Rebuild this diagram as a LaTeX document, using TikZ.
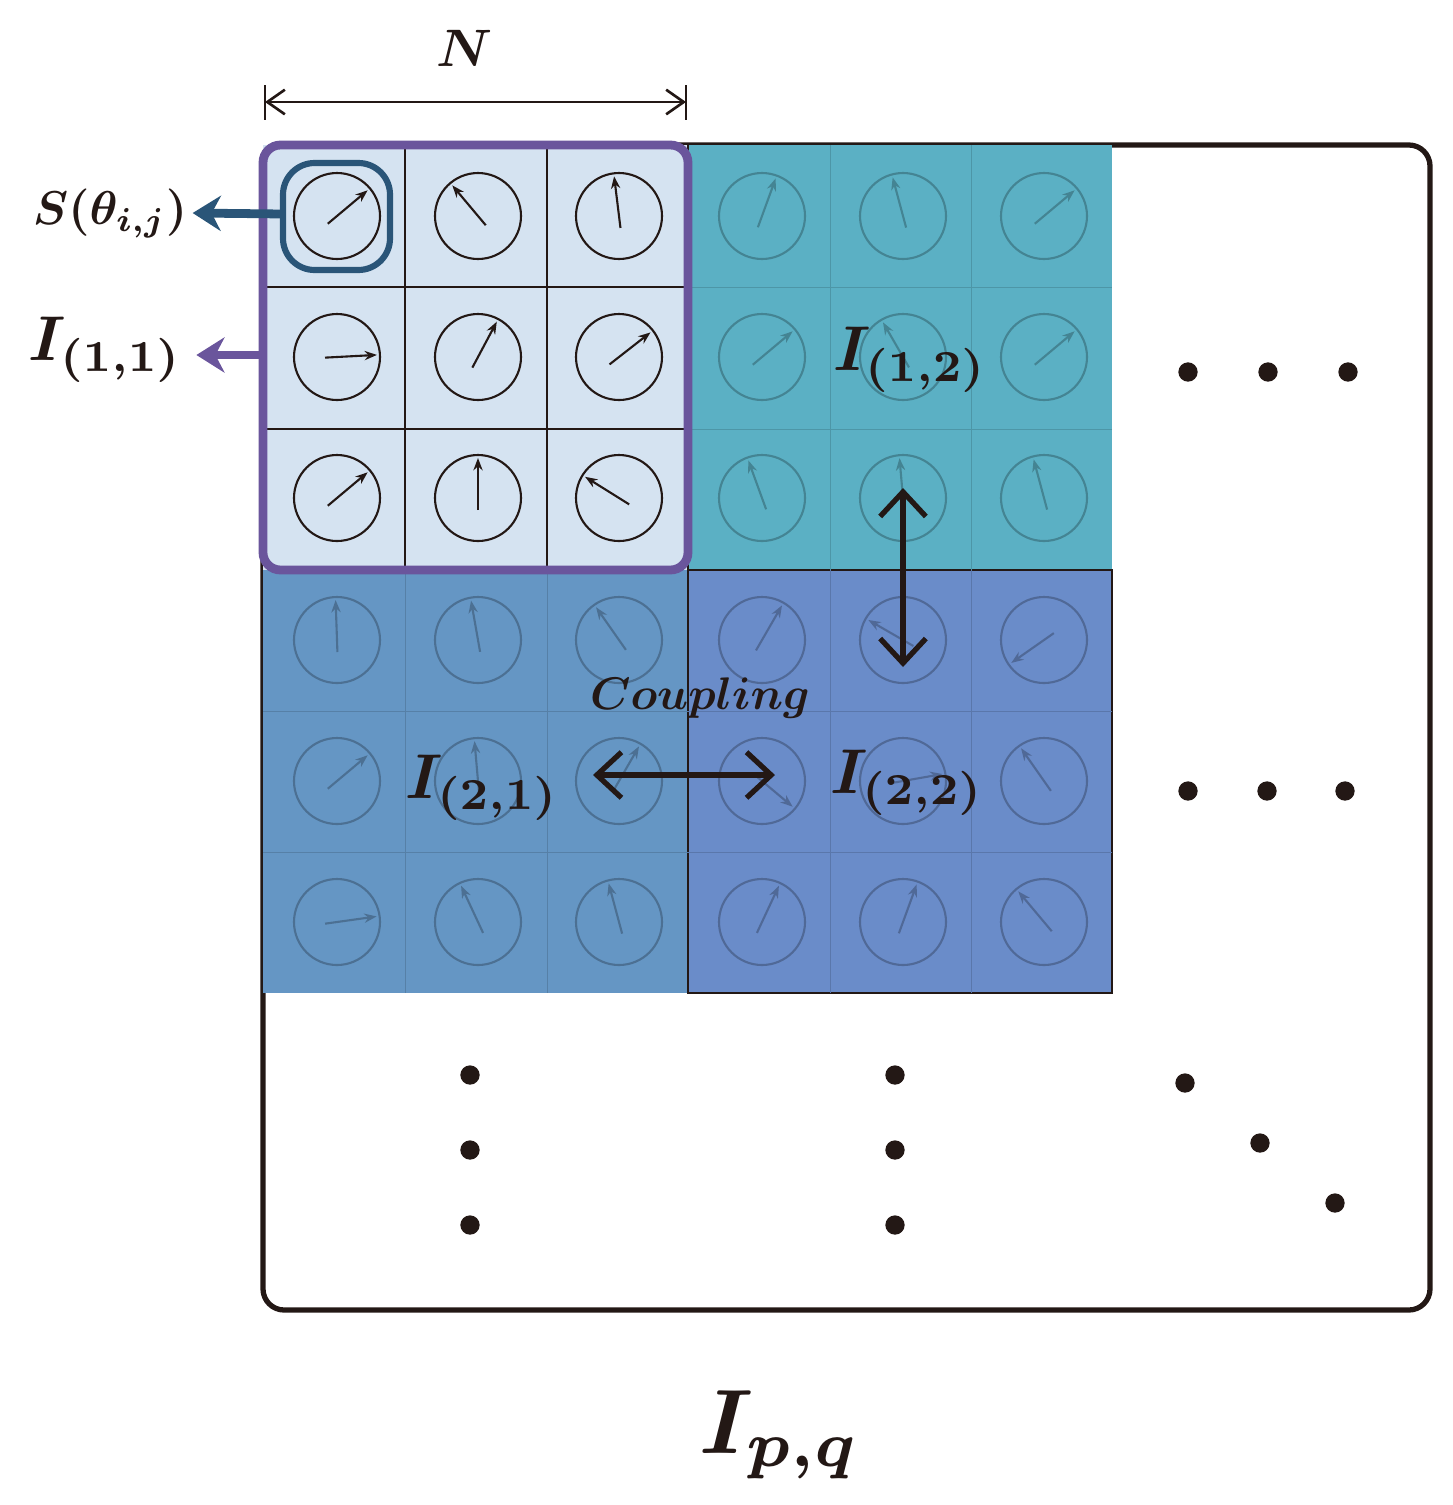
\documentclass[tikz,border=0pt]{standalone}
\usepackage{bm}
\usetikzlibrary{arrows.meta,calc}
\definecolor{cA}{HTML}{D5E3F1}
\definecolor{cB}{HTML}{5BB0C4}
\definecolor{cC}{HTML}{6596C4}
\definecolor{cD}{HTML}{6A8CC9}
\definecolor{pur}{HTML}{6A559C}
\definecolor{dblue}{HTML}{2A5578}
\definecolor{ink}{HTML}{231815}
\tikzset{
 lbl/.style={inner sep=0pt,text=ink},
 dot/.style={circle,fill=ink,inner sep=0pt,minimum size=11pt},
 dbl/.style={{Straight Barb[length=14pt,width=26pt]}-{Straight Barb[length=14pt,width=26pt]},line width=3pt,draw=ink},
}
\newcommand{\myspin}[4]{%
 \draw[#4,line width=1.2pt] (#1,#2) circle (43);
 \draw[#4,line width=1.2pt,-{Stealth[length=7pt]}] ($(#1,#2)+(-#3+180:12)$) -- ($(#1,#2)+(-#3:40)$);}
\newcommand{\mybig}[2]{\scalebox{#1}{$\bm{#2}$}}
\begin{document}
\begin{tikzpicture}[x=0.02cm,y=-0.02cm]
\useasboundingbox (0,0) rectangle (1453,1505);
\draw[ink,line width=3pt,rounded corners=12] (263,145) rectangle (1430,1310);
\fill[cA] (263,145) rectangle (688,570);
\fill[cB] (688,145) rectangle (1112,570);
\fill[cC] (263,570) rectangle (688,993);
\fill[cD] (688,570) rectangle (1112,993);
\draw[ink,line width=1.2pt] (688,570) rectangle (1112,993);
\draw[ink,line width=1.2pt] (688,145) -- (688,993);
\foreach \x in {405,547}{\draw[ink,line width=1.2pt] (\x,145)--(\x,570);}
\foreach \y in {287,429}{\draw[ink,line width=1.2pt] (263,\y)--(688,\y);}
\foreach \x in {830,971}{\draw[cB!85!black] (\x,145)--(\x,570);}
\foreach \y in {287,429}{\draw[cB!85!black] (688,\y)--(1112,\y);}
\foreach \x in {405,547}{\draw[cC!85!black] (\x,570)--(\x,993);}
\foreach \y in {711,852}{\draw[cC!85!black] (263,\y)--(688,\y);}
\foreach \x in {830,971}{\draw[cD!85!black] (\x,570)--(\x,993);}
\foreach \y in {711,852}{\draw[cD!85!black] (688,\y)--(1112,\y);}
\foreach \i/\j/\a in {0/0/40,1/0/130,2/0/97,0/1/3,1/1/62,2/1/38,0/2/40,1/2/90,2/2/148}{
 \myspin{337+141*\i}{216+141*\j}{\a}{ink}}
\foreach \i/\j/\a in {0/0/70,1/0/105,2/0/40,0/1/40,1/1/120,2/1/40,0/2/110,1/2/95,2/2/105}{
 \myspin{762+141*\i}{216+141*\j}{\a}{cB!75!black}}
\foreach \i/\j/\a in {0/0/92,1/0/100,2/0/125,0/1/40,1/1/95,2/1/60,0/2/8,1/2/115,2/2/105}{
 \myspin{337+141*\i}{640+141*\j}{\a}{cC!75!black}}
\foreach \i/\j/\a in {0/0/60,1/0/150,2/0/215,0/1/320,1/1/10,2/1/125,0/2/65,1/2/70,2/2/130}{
 \myspin{762+141*\i}{640+141*\j}{\a}{cD!75!black}}
\draw[pur,line width=5pt,rounded corners=10] (263,145) rectangle (688,570);
\draw[dblue,line width=3.5pt,rounded corners=18] (283,163) rectangle (390,270);
\node[lbl] (N) at (465,48) {\mybig{3}{N}};
\coordinate (dl) at (265,102); \coordinate (dr) at (686,102);
\draw[ink,line width=1.5pt,{Straight Barb[length=10pt,width=14pt]}-{Straight Barb[length=10pt,width=14pt]}] (dl)--(dr);
\draw[ink,line width=1.5pt] (265,85)--(265,120) (686,85)--(686,120);
\node[lbl] (S) at (110,213) {\mybig{2.7}{S(\theta_{i,j})}};
\coordinate (sa) at (283,214);
\draw[dblue,line width=5pt,-{Stealth[length=16pt,width=20pt]}] (sa) -- ([xshift=3pt]S.east);
\node[lbl] (I11) at (105,350) {\mybig{3.6}{I_{(1,1)}}};
\coordinate (ia) at (263,355);
\draw[pur,line width=5pt,-{Stealth[length=16pt,width=20pt]}] (ia) -- ([xshift=8pt]I11.east |- ia);
\node[lbl] (I12) at (910,360) {\mybig{3.6}{I_{(1,2)}}};
\node[lbl] (I21) at (482,788) {\mybig{3.6}{I_{(2,1)}}};
\node[lbl] (I22) at (907,783) {\mybig{3.6}{I_{(2,2)}}};
\node[lbl] (cp) at (700,698) {\mybig{2.6}{Coupling}};
\coordinate (v1) at (903,488); \coordinate (v2) at (903,667);
\draw[dbl] (v1)--(v2);
\coordinate (h1) at (593,775); \coordinate (h2) at (775,775);
\draw[dbl] (h1)--(h2);
\node[lbl] (Ipq) at (780,1435) {\mybig{5.2}{I_{p,q}}};
\foreach \x/\y [count=\k] in {1188/372,1268/372,1348/372,1188/791,1267/791,1345/791,470/1075,470/1150,470/1225,895/1075,895/1150,895/1225,1185/1083,1260/1143,1335/1203}
 \node[dot] (d\k) at (\x,\y) {};
\end{tikzpicture}
\end{document}
